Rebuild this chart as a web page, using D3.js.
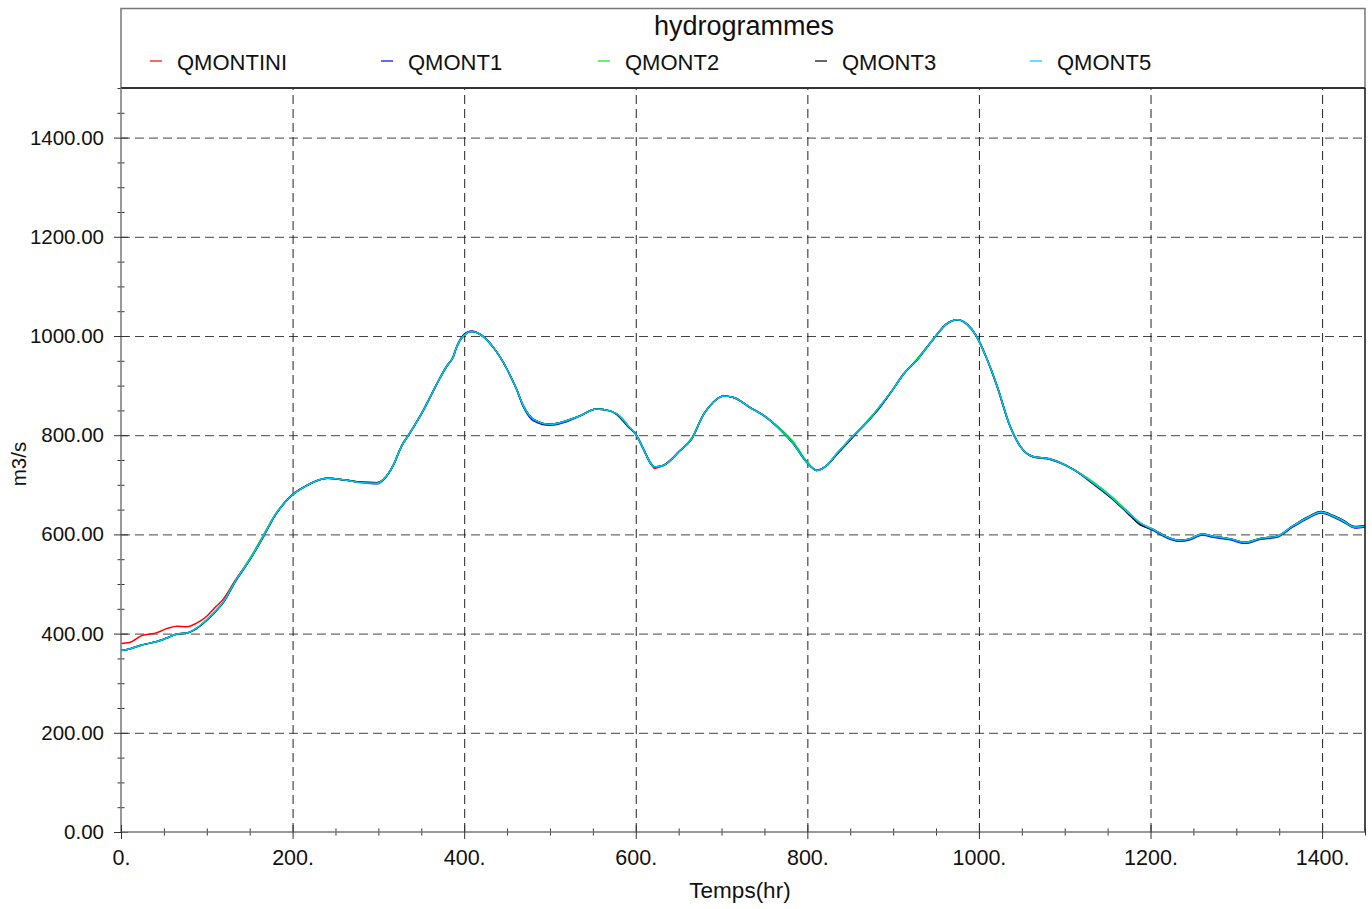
<!DOCTYPE html>
<html>
<head>
<meta charset="utf-8">
<script src="https://cdn.jsdelivr.net/npm/d3@7"></script>
<style>
  html, body { margin: 0; padding: 0; background: #fff; }
  svg { display: block; font-family: "Liberation Sans", Arial, Helvetica, sans-serif; }
</style>
</head>
<body>
<svg id="chart" width="1372" height="909"></svg>
<script>
// ---- data ----
const chartTitle = "hydrogrammes";
const xLabel = "Temps(hr)";
const yLabel = "m3/s";
const seriesNames = ["QMONTINI", "QMONT1", "QMONT2", "QMONT3", "QMONT5"];
const seriesColors = ["#ff0000", "#0000ff", "#00ee00", "#000000", "#00c8ff"];
const xTickValues = [0, 200, 400, 600, 800, 1000, 1200, 1400];
const yTickValues = [0, 200, 400, 600, 800, 1000, 1200, 1400];

const hours = [0, 10, 24, 42, 55, 65, 77, 88, 100, 111, 119, 133, 150, 164, 180, 200, 216, 240, 263, 282,
  298, 306, 317, 327, 337, 352, 368, 380, 387, 391, 399, 409, 418, 434, 450, 461, 469, 481, 500, 519,
  535, 554, 570, 582, 591, 600, 609, 617, 622, 632, 651, 665, 679, 690, 702, 714, 733, 753, 768, 784,
  799, 811, 822, 834, 853, 869, 885, 900, 912, 927, 947, 962, 975, 986, 997, 1009, 1021, 1036, 1048, 1063,
  1083, 1110, 1133, 1153, 1172, 1188, 1203, 1219, 1234, 1246, 1260, 1273, 1293, 1310, 1328, 1347, 1366, 1382, 1399, 1413,
  1425, 1438, 1450];

const QMONTINI = [380, 382, 396, 402, 411, 415, 414, 421, 435, 455, 469, 507, 550, 592, 640, 681, 698, 713, 709, 705,
  704, 711, 738, 778, 805, 849, 903, 940, 957, 977, 1000, 1009, 1004, 977, 933, 893, 859, 832, 822, 829,
  839, 853, 849, 837, 819, 802, 772, 744, 733, 739, 768, 792, 842, 866, 879, 876, 856, 835, 812, 782,
  746, 729, 738, 762, 798, 825, 859, 893, 923, 950, 994, 1024, 1033, 1024, 1000, 955, 898, 819, 778, 757,
  752, 731, 704, 677, 647, 623, 610, 595, 588, 591, 601, 596, 591, 584, 592, 596, 617, 633, 645, 637,
  627, 615, 617];
const QMONT1 = [366, 369, 377, 384, 392, 399, 401, 411, 428, 447, 463, 505, 549, 590, 640, 680, 698, 713, 709, 704,
  702, 710, 738, 778, 805, 849, 903, 940, 957, 977, 1002, 1010, 1004, 977, 933, 893, 857, 829, 820, 827,
  839, 853, 849, 837, 819, 802, 772, 744, 736, 739, 768, 792, 842, 866, 879, 876, 856, 835, 812, 782,
  746, 729, 738, 762, 798, 825, 859, 893, 923, 950, 994, 1024, 1033, 1024, 1000, 955, 900, 819, 778, 756,
  751, 731, 704, 677, 647, 621, 608, 593, 586, 589, 599, 594, 589, 582, 590, 594, 615, 631, 643, 635,
  625, 613, 615];
const QMONT2 = [366, 369, 377, 384, 392, 399, 401, 411, 428, 447, 463, 505, 551, 592, 641, 680, 698, 713, 709, 705,
  704, 711, 738, 778, 805, 849, 903, 940, 957, 977, 1000, 1009, 1004, 977, 933, 893, 859, 832, 822, 829,
  839, 853, 849, 837, 819, 802, 772, 746, 736, 739, 768, 794, 842, 866, 879, 876, 856, 835, 814, 786,
  748, 729, 738, 762, 798, 827, 859, 893, 923, 952, 994, 1024, 1033, 1024, 1000, 955, 900, 821, 778, 757,
  752, 731, 706, 679, 649, 623, 610, 595, 588, 591, 601, 596, 591, 584, 592, 596, 617, 633, 645, 637,
  627, 615, 617];
const QMONT3 = [366, 369, 377, 384, 392, 399, 401, 410, 427, 446, 462, 504, 548, 589, 639, 680, 698, 713, 709, 705,
  704, 711, 738, 778, 805, 849, 903, 940, 957, 977, 1000, 1009, 1004, 977, 933, 893, 859, 832, 822, 829,
  839, 853, 849, 835, 817, 802, 772, 744, 736, 739, 768, 792, 842, 866, 879, 876, 856, 835, 812, 782,
  746, 729, 738, 760, 796, 825, 857, 893, 923, 950, 994, 1024, 1033, 1024, 1000, 955, 900, 819, 778, 757,
  752, 731, 702, 675, 645, 619, 610, 595, 588, 591, 601, 596, 591, 584, 592, 596, 617, 634, 646, 638,
  628, 616, 618];
const QMONT5 = [366, 369, 377, 384, 392, 399, 401, 411, 428, 447, 463, 505, 549, 590, 640, 680, 698, 713, 709, 704,
  703, 711, 738, 778, 805, 849, 903, 940, 957, 977, 1000, 1009, 1004, 977, 933, 893, 859, 832, 822, 829,
  839, 853, 849, 837, 819, 802, 772, 744, 736, 739, 768, 792, 842, 866, 879, 876, 856, 835, 812, 782,
  746, 729, 738, 762, 798, 825, 859, 893, 923, 950, 994, 1024, 1033, 1024, 1000, 955, 900, 819, 778, 757,
  752, 731, 704, 677, 647, 623, 610, 595, 588, 591, 601, 596, 591, 584, 592, 596, 617, 633, 645, 637,
  627, 615, 617];
const seriesValues = [QMONTINI, QMONT1, QMONT2, QMONT3, QMONT5];

// ---- layout ----
const svg = d3.select("#chart");
const L = 121, R = 1365, T = 88, B = 832;
const x = d3.scaleLinear().domain([0, 1450]).range([L, R]);
const y = d3.scaleLinear().domain([0, 1500]).range([B, T]);

// legend / title box
svg.append("rect").attr("x", L).attr("y", 8.5).attr("width", R - L).attr("height", T - 8.5)
  .attr("fill", "#fff").attr("stroke", "#777").attr("stroke-width", 1.5);

// gridlines
const gridY = svg.append("g").attr("transform", `translate(${L},0)`)
  .call(d3.axisLeft(y).tickValues(yTickValues.filter(v => v > 0)).tickSize(-(R - L)).tickFormat(""));
gridY.select(".domain").remove();
gridY.selectAll("line").attr("stroke", "#444").attr("stroke-dasharray", "9,5");
const gridX = svg.append("g").attr("transform", `translate(0,${B})`)
  .call(d3.axisBottom(x).tickValues(xTickValues.filter(v => v > 0)).tickSize(-(B - T)).tickFormat(""));
gridX.select(".domain").remove();
gridX.selectAll("line").attr("stroke", "#222").attr("stroke-dasharray", "9,5");

// series lines
const line = d3.line().x((d, i) => x(hours[i])).y(d => y(d)).curve(d3.curveMonotoneX);
seriesValues.forEach((vals, k) => {
  svg.append("path").datum(vals).attr("d", line)
    .attr("fill", "none").attr("stroke", seriesColors[k]).attr("stroke-width", 1.5);
});

// plot frame (top & right)
svg.append("line").attr("x1", L).attr("x2", R).attr("y1", T).attr("y2", T).attr("stroke", "#333").attr("stroke-width", 2);
svg.append("line").attr("x1", R).attr("x2", R).attr("y1", T).attr("y2", B).attr("stroke", "#111").attr("stroke-width", 1.5);

// y axis
const minorY = d3.range(0, 1501, 50).filter(v => v % 200 !== 0);
const yMinor = svg.append("g").attr("transform", `translate(${L},0)`)
  .call(d3.axisLeft(y).tickValues(minorY).tickSize(3.5).tickFormat(""));
yMinor.select(".domain").remove();
yMinor.selectAll("line").attr("x2", -3.5).attr("x1", 3.5).attr("stroke", "#333");
const yAxis = svg.append("g").attr("transform", `translate(${L},0)`)
  .call(d3.axisLeft(y).tickValues(yTickValues).tickSize(7).tickPadding(10).tickFormat(d3.format(".2f")));
yAxis.select(".domain").attr("d", `M0,${T}V${B}`).attr("stroke", "#777").attr("stroke-width", 1.5);
yAxis.selectAll(".tick line").attr("x1", 7).attr("stroke", "#333");
yAxis.selectAll("text").attr("font-size", 20.5).attr("fill", "#111")
  .style("font-family", '"Liberation Sans", Arial, sans-serif');

// x axis
const minorX = d3.range(0, 1451, 50).filter(v => v % 200 !== 0);
const xMinor = svg.append("g").attr("transform", `translate(0,${B})`)
  .call(d3.axisBottom(x).tickValues(minorX).tickSize(3.5).tickFormat(""));
xMinor.select(".domain").remove();
xMinor.selectAll("line").attr("y1", -3.5).attr("stroke", "#333");
const xAxis = svg.append("g").attr("transform", `translate(0,${B})`)
  .call(d3.axisBottom(x).tickValues(xTickValues).tickSize(7).tickPadding(11).tickFormat(v => d3.format("d")(v) + "."));
xAxis.select(".domain").attr("d", `M${L},0H${R}`).attr("stroke", "#777").attr("stroke-width", 1.5);
xAxis.selectAll(".tick line").attr("y1", -7).attr("stroke", "#333");
xAxis.selectAll("text").attr("font-size", 21.5).attr("fill", "#111")
  .style("font-family", '"Liberation Sans", Arial, sans-serif');

// axis titles
svg.append("text").attr("x", 740).attr("y", 898).attr("text-anchor", "middle")
  .attr("font-size", 22.5).attr("fill", "#111").text(xLabel);
svg.append("text").attr("transform", "translate(26,464) rotate(-90)").attr("text-anchor", "middle")
  .attr("font-size", 20.5).attr("fill", "#111").text(yLabel);

// title
svg.append("text").attr("x", 744).attr("y", 35).attr("text-anchor", "middle")
  .attr("font-size", 27).attr("fill", "#111").text(chartTitle);

// legend
const legendX = [150, 381, 598, 815, 1030];
seriesNames.forEach((name, k) => {
  svg.append("line").attr("x1", legendX[k]).attr("x2", legendX[k] + 12).attr("y1", 61).attr("y2", 61)
    .attr("stroke", seriesColors[k]).attr("stroke-width", 1.2);
  svg.append("text").attr("x", legendX[k] + 27).attr("y", 69.5).attr("font-size", 22).attr("fill", "#111").text(name);
});
</script>
</body>
</html>
